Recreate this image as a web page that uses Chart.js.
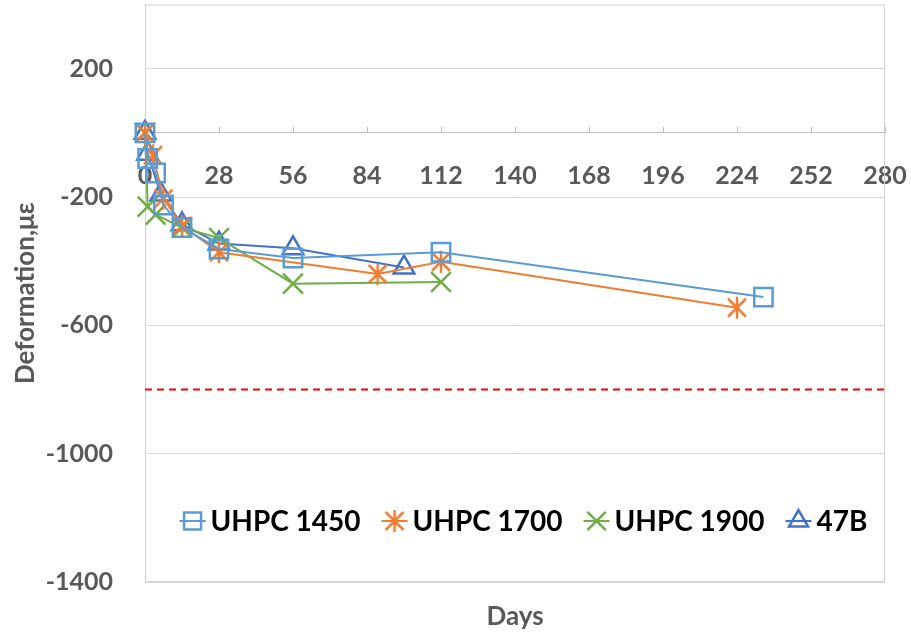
<!DOCTYPE html>
<html>
<head>
<meta charset="utf-8">
<script src="https://cdn.jsdelivr.net/npm/chart.js@4.4.0/dist/chart.umd.min.js"></script>
<style>
  body { margin: 0; background: #fff; overflow: hidden; }
  #wrap { width: 911px; height: 634px; overflow: hidden; }
  /* chart.js keeps ~12px above the plot for the top y label, pull it up */
  #myChart { display: block; margin-top: -12px; }
</style>
</head>
<body>
<div id="wrap"><canvas id="myChart" width="911" height="646"></canvas></div>
<script>
// deformation (microstrain) vs age in days
const days1450 = [0, 1, 4, 7, 14, 28, 56, 112, 234];
const def1450  = [0, -80, -125, -225, -295, -362, -390, -372, -512];
const days1700 = [0, 3, 7, 14, 28, 88, 112, 224];
const def1700  = [0, -70, -205, -290, -372, -440, -402, -545];
const days1900 = [0, 1, 4, 14, 28, 56, 112];
const def1900  = [0, -230, -255, -295, -328, -470, -465];
const days47B  = [0, 1, 6, 14, 28, 56, 98];
const def47B   = [0, -65, -192, -285, -345, -360, -420];
// red dashed limit line
const limitDays = [0, 280];
const limitDef  = [-800, -800];
const yTickValues = [-1400, -1000, -600, -200, 200];

const FONT = 'Lato';
const GREY = '#595959';
const SHIFT = 12;

const toPts = (xs, ys) => xs.map((d, i) => ({ x: d, y: ys[i] }));

// 6-arm asterisk like the excel "star" marker
function makeStar(color) {
  const c = document.createElement('canvas');
  c.width = 26; c.height = 26;
  const g = c.getContext('2d');
  g.strokeStyle = color; g.lineWidth = 2.5;
  g.beginPath();
  g.moveTo(13, 2); g.lineTo(13, 24);
  g.moveTo(4, 4); g.lineTo(22, 22);
  g.moveTo(22, 4); g.lineTo(4, 22);
  g.stroke();
  return c;
}

const series = [
  { label: 'UHPC 1450', xs: days1450, ys: def1450, color: '#5B9BD5', style: 'rect', r: 13 },
  { label: 'UHPC 1700', xs: days1700, ys: def1700, color: '#ED7D31', style: makeStar('#ED7D31'), r: 12 },
  { label: 'UHPC 1900', xs: days1900, ys: def1900, color: '#70AD47', style: 'crossRot', r: 14 },
  { label: '47B',       xs: days47B,  ys: def47B,  color: '#4472C4', style: 'triangle', r: 12 },
];

const datasets = series.map(s => ({
  label: s.label,
  data: toPts(s.xs, s.ys),
  showLine: true,
  borderColor: s.color,
  backgroundColor: 'rgba(0,0,0,0)',
  borderWidth: 2,
  pointStyle: s.style,
  pointRadius: s.r,
  pointHoverRadius: s.r,
  pointBorderWidth: 2.5,
  pointBorderColor: s.color,
  pointBackgroundColor: 'rgba(0,0,0,0)',
  clip: false,
}));
datasets.push({
  label: 'limit',
  data: toPts(limitDays, limitDef),
  showLine: true,
  borderColor: '#FF0000',
  borderWidth: 2,
  borderDash: [7, 5],
  pointRadius: 0,
  clip: false,
});

const extras = {
  id: 'extras',
  beforeDatasetsDraw(chart) {
    const { ctx, chartArea: a, scales: { x, y } } = chart;
    ctx.save();
    ctx.strokeStyle = '#D0D0D0';
    ctx.lineWidth = 1;
    ctx.strokeRect(a.left + 0.5, a.top + 0.5, a.width - 1, a.height - 1);
    const y0 = y.getPixelForValue(0);
    ctx.strokeStyle = '#BFBFBF';
    x.ticks.forEach(t => {
      const px = Math.round(x.getPixelForValue(t.value)) + 0.5;
      ctx.beginPath(); ctx.moveTo(px, y0); ctx.lineTo(px, y0 - 6); ctx.stroke();
    });
    ctx.restore();
  },
  afterDraw(chart) {
    const { ctx, chartArea: a } = chart;
    ctx.save();
    // x axis title at the bottom
    ctx.fillStyle = GREY;
    ctx.font = `bold 26px ${FONT}`;
    ctx.textAlign = 'center';
    ctx.textBaseline = 'middle';
    ctx.fillText('Days', (a.left + a.right) / 2, 617 + SHIFT);

    // legend inside the plot
    ctx.font = `bold 28px ${FONT}`;
    ctx.textAlign = 'left';
    const gap = 22, mk = 30;
    const widths = series.map(s => mk + ctx.measureText(s.label).width);
    const total = widths.reduce((p, w) => p + w, 0) + gap * (series.length - 1);
    let px = 524 - total / 2;
    const py = 521 + SHIFT;
    series.forEach((s, i) => {
      const cx = px + 12;
      ctx.strokeStyle = s.color;
      ctx.fillStyle = 'rgba(0,0,0,0)';
      ctx.lineWidth = 2;
      ctx.beginPath(); ctx.moveTo(cx - 13, py); ctx.lineTo(cx + 13, py); ctx.stroke();
      ctx.lineWidth = 2.5;
      Chart.helpers.drawPoint(ctx, { pointStyle: s.style, radius: s.r - 1, borderWidth: 2.5, rotation: 0 }, cx, py);
      ctx.fillStyle = '#000';
      ctx.fillText(s.label, px + mk, py + 1);
      px += widths[i] + gap;
    });
    ctx.restore();
  }
};

new Chart(document.getElementById('myChart'), {
  type: 'scatter',
  data: { datasets },
  options: {
    responsive: false,
    animation: false,
    layout: { padding: { left: 0, right: 26, top: 5, bottom: 52 } },
    plugins: { legend: { display: false }, tooltip: { enabled: false } },
    scales: {
      x: {
        type: 'linear',
        position: { y: 0 },
        min: 0, max: 280,
        afterFit: s => { s.paddingLeft = 0; s.paddingRight = 0; s.paddingTop = 0; s.paddingBottom = 0; },
        ticks: { stepSize: 28, autoSkip: false, maxRotation: 0, padding: 28, color: GREY, font: { family: FONT, size: 25, weight: 'bold' } },
        grid: { display: false, drawTicks: false },
        border: { display: true, color: '#BFBFBF', width: 1 },
      },
      y: {
        type: 'linear',
        min: -1400, max: 400,
        afterBuildTicks: s => { s.ticks = yTickValues.map(v => ({ value: v })); },
        afterFit: s => { s.width = 145; s.paddingTop = 0; s.paddingBottom = 0; },
        ticks: { padding: 32, color: GREY, callback: v => String(v), font: { family: FONT, size: 25, weight: 'bold' } },
        grid: { color: '#D9D9D9', drawTicks: false },
        border: { display: true, color: '#BFBFBF', width: 1 },
        title: { display: true, text: 'Deformation,με', color: GREY, padding: { top: 10, bottom: 0 }, font: { family: FONT, size: 26, weight: 'bold' } },
      }
    }
  },
  plugins: [extras]
});
</script>
</body>
</html>
